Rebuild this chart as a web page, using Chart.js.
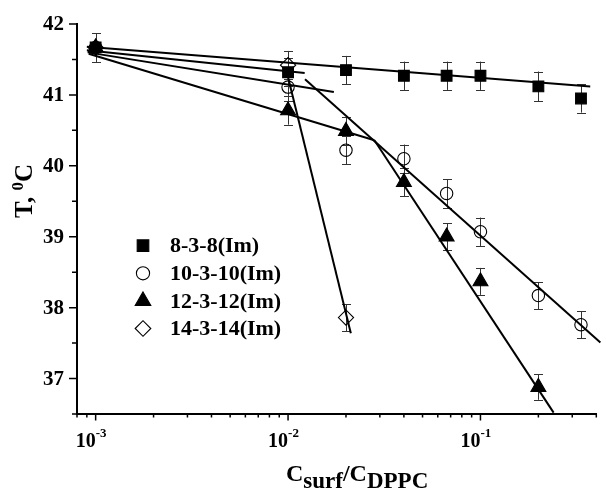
<!DOCTYPE html>
<html><head><meta charset="utf-8">
<script src="https://cdn.jsdelivr.net/npm/chart.js@4/dist/chart.umd.min.js"></script>
<style>html,body{margin:0;padding:0;background:#fff}#wrap{width:606px;height:493px;position:relative}</style>
</head><body><div id="wrap"><canvas id="c"></canvas></div>
<script>
// ---------- data ----------
const seriesNames = ['8-3-8(Im)', '10-3-10(Im)', '12-3-12(Im)', '14-3-14(Im)'];

const x838 = [0.001, 0.01, 0.02, 0.04, 0.0667, 0.1, 0.2, 0.333];
const y838 = [41.67, 41.32, 41.35, 41.27, 41.27, 41.27, 41.12, 40.95];
const e838 = [0.2, 0.2, 0.2, 0.2, 0.2, 0.2, 0.21, 0.2];

const x1010 = [0.001, 0.01, 0.02, 0.04, 0.0667, 0.1, 0.2, 0.333];
const y1010 = [41.67, 41.11, 40.22, 40.10, 39.61, 39.07, 38.17, 37.76];
const e1010 = [0.2, 0.2, 0.2, 0.2, 0.2, 0.2, 0.19, 0.19];

const x1212 = [0.001, 0.01, 0.02, 0.04, 0.0667, 0.1, 0.2];
const y1212 = [41.67, 40.78, 40.49, 39.77, 39.00, 38.37, 36.88];
const e1212 = [0.2, 0.2, 0.2, 0.2, 0.19, 0.19, 0.18];

const x1414 = [0.001, 0.01, 0.02];
const y1414 = [41.67, 41.42, 37.86];
const e1414 = [0.2, 0.2, 0.19];

// fitted straight lines (end points)
const fit838x = [0.00090, 0.372];   const fit838y = [41.68, 41.12];
const fit1010ax = [0.00091, 0.0173]; const fit1010ay = [41.60, 41.04];
const fit1010bx = [0.01225, 0.42];  const fit1010by = [41.22, 37.51];
const fit1212ax = [0.00092, 0.0281]; const fit1212ay = [41.58, 40.36];
const fit1212bx = [0.0281, 0.240];  const fit1212by = [40.36, 36.52];
const fit1414ax = [0.00090, 0.0122]; const fit1414ay = [41.63, 41.31];
const fit1414bx = [0.0100, 0.0212]; const fit1414by = [41.25, 37.64];

// axis ticks
const xMin = 0.0008, xMax = 0.4, yMin = 36.5, yMax = 42;
const xMajorTicks = [0.001, 0.01, 0.1];
const xMajorExp = ['-3', '-2', '-1'];
const xMinorTicks = [0.0008, 0.0009, 0.002, 0.003, 0.004, 0.005, 0.006, 0.007, 0.008, 0.009,
                     0.02, 0.03, 0.04, 0.05, 0.06, 0.07, 0.08, 0.09, 0.2, 0.3, 0.4];
const yMajorTicks = [37, 38, 39, 40, 41, 42];
const yMinorTicks = [36.5, 37.5, 38.5, 39.5, 40.5, 41.5];

// ---------- build ----------
const FONT = "'Liberation Serif', 'Times New Roman', serif";
const pts = (xs, ys) => xs.map((x, i) => ({x: x, y: ys[i]}));

const markerStyles = [
  {pointStyle: 'rect', radius: 7.6, legR: 8.2, fill: '#000'},
  {pointStyle: 'circle', radius: 6.2, legR: 6.6, fill: 'rgba(0,0,0,0)'},
  {pointStyle: 'triangle', radius: 8.6, legR: 9.0, fill: '#000'},
  {pointStyle: 'rectRot', radius: 7.6, legR: 7.8, fill: 'rgba(0,0,0,0)'}
];
const seriesX = [x838, x1010, x1212, x1414];
const seriesY = [y838, y1010, y1212, y1414];
const seriesE = [e838, e1010, e1212, e1414];

const datasets = seriesNames.map((name, i) => ({
  label: name,
  data: pts(seriesX[i], seriesY[i]),
  errors: seriesE[i],
  showLine: false,
  pointStyle: markerStyles[i].pointStyle,
  pointRadius: markerStyles[i].radius,
  pointHoverRadius: markerStyles[i].radius,
  pointBackgroundColor: markerStyles[i].fill,
  pointBorderColor: '#000',
  pointBorderWidth: 1.1,
  clip: false
}));

const fits = [
  [fit838x, fit838y], [fit1010ax, fit1010ay], [fit1010bx, fit1010by],
  [fit1212ax, fit1212ay], [fit1212bx, fit1212by], [fit1414ax, fit1414ay], [fit1414bx, fit1414by]
];
fits.forEach(f => datasets.push({
  label: '_fit',
  data: pts(f[0], f[1]),
  showLine: true,
  borderColor: '#000',
  borderWidth: 2,
  pointRadius: 0,
  pointHoverRadius: 0,
  fill: false,
  clip: false
}));

function markerPath(ctx, style, r, x, y) {
  ctx.beginPath();
  if (style === 'rect') {
    const s = Math.SQRT1_2 * r;
    ctx.rect(x - s, y - s, 2 * s, 2 * s);
  } else if (style === 'circle') {
    ctx.arc(x, y, r, 0, Math.PI * 2);
  } else if (style === 'triangle') {
    ctx.moveTo(x, y - r);
    ctx.lineTo(x + Math.sin(Math.PI * 2 / 3) * r, y - Math.cos(Math.PI * 2 / 3) * r);
    ctx.lineTo(x + Math.sin(Math.PI * 4 / 3) * r, y - Math.cos(Math.PI * 4 / 3) * r);
  } else if (style === 'rectRot') {
    ctx.moveTo(x - r, y); ctx.lineTo(x, y - r); ctx.lineTo(x + r, y); ctx.lineTo(x, y + r);
  }
  ctx.closePath();
}

function drawRich(ctx, parts, x, y) {
  let cx = x;
  parts.forEach(p => {
    ctx.font = 'bold ' + p.size + 'px ' + FONT;
    ctx.fillText(p.t, cx, y + (p.dy || 0));
    cx += ctx.measureText(p.t).width + (p.gap || 0);
  });
  return cx;
}
function richWidth(ctx, parts) {
  let w = 0;
  parts.forEach(p => { ctx.font = 'bold ' + p.size + 'px ' + FONT; w += ctx.measureText(p.t).width + (p.gap || 0); });
  return w;
}

const errorBars = {
  id: 'errorBars',
  beforeDatasetsDraw(chart) {
    const ctx = chart.ctx, xs = chart.scales.x, ys = chart.scales.y;
    ctx.save();
    ctx.strokeStyle = '#333';
    ctx.lineWidth = 1;
    chart.data.datasets.forEach(ds => {
      if (!ds.errors) return;
      ds.data.forEach((p, i) => {
        const e = ds.errors[i];
        const px = Math.round(xs.getPixelForValue(p.x)) + 0.5;
        const y1 = ys.getPixelForValue(p.y + e), y2 = ys.getPixelForValue(p.y - e);
        ctx.beginPath();
        ctx.moveTo(px, y1); ctx.lineTo(px, y2);
        ctx.moveTo(px - 4.5, Math.round(y1) + 0.5); ctx.lineTo(px + 4.5, Math.round(y1) + 0.5);
        ctx.moveTo(px - 4.5, Math.round(y2) + 0.5); ctx.lineTo(px + 4.5, Math.round(y2) + 0.5);
        ctx.stroke();
      });
    });
    ctx.restore();
  }
};

const decor = {
  id: 'decor',
  afterDraw(chart) {
    const ctx = chart.ctx, xs = chart.scales.x, ys = chart.scales.y, ca = chart.chartArea;
    ctx.save();
    ctx.strokeStyle = '#000';
    ctx.fillStyle = '#000';
    ctx.lineWidth = 1.5;
    // x ticks (outward, below)
    ctx.beginPath();
    xMajorTicks.forEach(v => { const p = xs.getPixelForValue(v); ctx.moveTo(p, ca.bottom); ctx.lineTo(p, ca.bottom + 6.5); });
    xMinorTicks.forEach(v => { const p = xs.getPixelForValue(v); ctx.moveTo(p, ca.bottom); ctx.lineTo(p, ca.bottom + 3.5); });
    // y ticks (outward, left)
    yMajorTicks.forEach(v => { const p = ys.getPixelForValue(v); ctx.moveTo(ca.left, p); ctx.lineTo(ca.left - 8, p); });
    yMinorTicks.forEach(v => { const p = ys.getPixelForValue(v); ctx.moveTo(ca.left, p); ctx.lineTo(ca.left - 5, p); });
    ctx.stroke();

    // y tick labels
    ctx.font = 'bold 21px ' + FONT;
    ctx.textAlign = 'right';
    ctx.textBaseline = 'middle';
    yMajorTicks.forEach(v => ctx.fillText(String(v), ca.left - 13, ys.getPixelForValue(v) + 1));

    // x tick labels: "10" ending at the tick, exponent after it
    ctx.textBaseline = 'alphabetic';
    xMajorTicks.forEach((v, i) => {
      const p = xs.getPixelForValue(v);
      ctx.textAlign = 'right';
      ctx.font = 'bold 20px ' + FONT;
      ctx.fillText('10', p, ca.bottom + 33);
      ctx.textAlign = 'left';
      ctx.font = 'bold 13px ' + FONT;
      ctx.fillText(xMajorExp[i], p, ca.bottom + 23);
    });

    // x axis title
    ctx.textAlign = 'left';
    const xt = [
      {t: 'C', size: 24}, {t: 'surf', size: 23, dy: 7}, {t: '/', size: 24},
      {t: 'C', size: 24}, {t: 'DPPC', size: 23, dy: 7}
    ];
    drawRich(ctx, xt, ca.left + 209, ca.bottom + 67);

    // y axis title (rotated)
    ctx.save();
    ctx.translate(32, 191);
    ctx.rotate(-Math.PI / 2);
    const yt = [{t: 'T, ', size: 25}, {t: '0', size: 17, dy: -9}, {t: 'C', size: 25}];
    const w = richWidth(ctx, yt);
    drawRich(ctx, yt, -w / 2, 0);
    ctx.restore();

    // legend
    const legX = ca.left + 66, legY0 = 245.7, legDy = 27.6;
    seriesNames.forEach((name, i) => {
      const y = legY0 + i * legDy;
      const m = markerStyles[i];
      markerPath(ctx, m.pointStyle, m.legR, legX, y);
      ctx.fillStyle = m.fill; ctx.fill();
      ctx.lineWidth = 1.1; ctx.strokeStyle = '#000'; ctx.stroke();
      ctx.fillStyle = '#000';
      ctx.font = 'bold 22px ' + FONT;
      ctx.textAlign = 'left';
      ctx.textBaseline = 'middle';
      ctx.fillText(name, legX + 27, y + 1);
    });
    ctx.restore();
  }
};

new Chart(document.getElementById('c'), {
  type: 'scatter',
  data: {datasets: datasets},
  plugins: [errorBars, decor],
  options: {
    responsive: true,
    maintainAspectRatio: false,
    animation: false,
    events: [],
    layout: {padding: {left: 77, right: 5, top: 24, bottom: 79}},
    plugins: {legend: {display: false}, tooltip: {enabled: false}},
    scales: {
      x: {
        type: 'logarithmic', min: xMin, max: xMax,
        grid: {display: false, drawTicks: false},
        border: {display: true, color: '#000', width: 2},
        ticks: {display: false}
      },
      y: {
        type: 'linear', min: yMin, max: yMax,
        grid: {display: false, drawTicks: false},
        border: {display: true, color: '#000', width: 2},
        ticks: {display: false}
      }
    }
  }
});
</script>
</body></html>
